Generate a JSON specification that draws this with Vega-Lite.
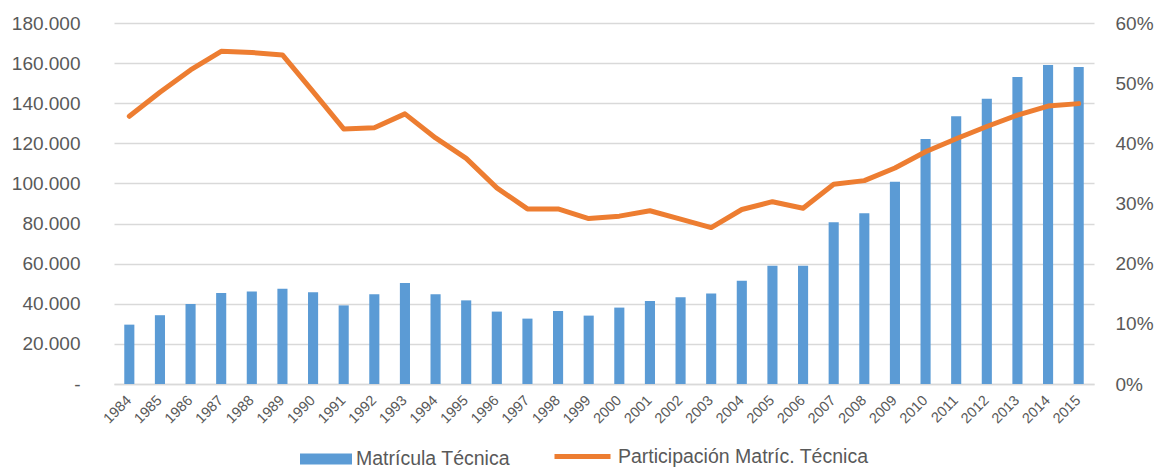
{
  "$schema": "https://vega.github.io/schema/vega-lite/v6.json",
  "width": 980,
  "height": 361,
  "autosize": {"type": "none"},
  "padding": {"left": 114, "top": 23, "right": 60, "bottom": 84},
  "background": "white",
  "config": {
    "view": {"stroke": null},
    "font": "Liberation Sans",
    "axis": {"labelFont": "Liberation Sans", "labelColor": "#595959", "tickSize": 0, "ticks": false},
    "legend": {"labelFont": "Liberation Sans", "labelColor": "#595959", "labelFontSize": 19.5, "padding": 0, "labelLimit": 500}
  },
  "data": {
    "values": [
      {"year": "1984", "matricula": 29600, "participacion": 0.445},
      {"year": "1985", "matricula": 34300, "participacion": 0.485},
      {"year": "1986", "matricula": 39900, "participacion": 0.522},
      {"year": "1987", "matricula": 45400, "participacion": 0.553},
      {"year": "1988", "matricula": 46100, "participacion": 0.551},
      {"year": "1989", "matricula": 47500, "participacion": 0.547},
      {"year": "1990", "matricula": 45700, "participacion": 0.486},
      {"year": "1991", "matricula": 39200, "participacion": 0.424},
      {"year": "1992", "matricula": 44700, "participacion": 0.426},
      {"year": "1993", "matricula": 50400, "participacion": 0.449},
      {"year": "1994", "matricula": 44700, "participacion": 0.409},
      {"year": "1995", "matricula": 41700, "participacion": 0.375},
      {"year": "1996", "matricula": 36100, "participacion": 0.326},
      {"year": "1997", "matricula": 32600, "participacion": 0.291},
      {"year": "1998", "matricula": 36400, "participacion": 0.291},
      {"year": "1999", "matricula": 34100, "participacion": 0.275},
      {"year": "2000", "matricula": 38100, "participacion": 0.279},
      {"year": "2001", "matricula": 41400, "participacion": 0.288},
      {"year": "2002", "matricula": 43200, "participacion": 0.274},
      {"year": "2003", "matricula": 45100, "participacion": 0.260},
      {"year": "2004", "matricula": 51500, "participacion": 0.290},
      {"year": "2005", "matricula": 59000, "participacion": 0.303},
      {"year": "2006", "matricula": 59000, "participacion": 0.292},
      {"year": "2007", "matricula": 80600, "participacion": 0.332},
      {"year": "2008", "matricula": 85200, "participacion": 0.338},
      {"year": "2009", "matricula": 100800, "participacion": 0.359},
      {"year": "2010", "matricula": 122100, "participacion": 0.386},
      {"year": "2011", "matricula": 133500, "participacion": 0.4075},
      {"year": "2012", "matricula": 142200, "participacion": 0.428},
      {"year": "2013", "matricula": 153100, "participacion": 0.447},
      {"year": "2014", "matricula": 159100, "participacion": 0.462},
      {"year": "2015", "matricula": 158100, "participacion": 0.466}
    ]
  },
  "encoding": {
    "x": {
      "field": "year",
      "type": "ordinal",
      "scale": {"paddingInner": 0.67, "paddingOuter": 0.335},
      "axis": {
        "title": null,
        "labelAngle": -45,
        "labelAlign": "right",
        "labelBaseline": "middle",
        "labelFontSize": 14.5,
        "labelPadding": 14,
        "domain": true,
        "domainColor": "#D9D9D9",
        "domainWidth": 1.5,
        "grid": false
      }
    }
  },
  "layer": [
    {
      "mark": {"type": "bar"},
      "encoding": {
        "y": {
          "field": "matricula",
          "type": "quantitative",
          "scale": {"domain": [0, 180000]},
          "axis": {
            "title": null,
            "values": [0, 20000, 40000, 60000, 80000, 100000, 120000, 140000, 160000, 180000],
            "labelExpr": "datum.value == 0 ? '-\u00a0\u00a0' : replace(format(datum.value, ','), ',', '.')",
            "labelFontSize": 19,
            "labelPadding": 34,
            "domain": false,
            "grid": true,
            "gridColor": "#D9D9D9",
            "gridWidth": 1.5
          }
        },
        "fill": {
          "datum": "Matrícula Técnica",
          "type": "nominal",
          "scale": {"range": ["#5B9BD5"]},
          "legend": {
            "title": null,
            "orient": "none",
            "legendX": 186,
            "legendY": 410,
            "symbolType": "M-1,-0.21H1V0.21H-1Z",
            "symbolSize": 2704,
            "symbolStrokeWidth": 0,
            "labelOffset": 4
          }
        }
      }
    },
    {
      "mark": {"type": "line", "strokeWidth": 5, "strokeJoin": "round", "strokeCap": "round"},
      "encoding": {
        "y": {
          "field": "participacion",
          "type": "quantitative",
          "scale": {"domain": [0, 0.6]},
          "axis": {
            "title": null,
            "orient": "right",
            "values": [0, 0.1, 0.2, 0.3, 0.4, 0.5, 0.6],
            "format": ".0%",
            "labelFontSize": 19,
            "labelPadding": 21,
            "domain": false,
            "grid": false
          }
        },
        "stroke": {
          "datum": "Participación Matríc. Técnica",
          "type": "nominal",
          "scale": {"range": ["#ED7D31"]},
          "legend": {
            "title": null,
            "orient": "none",
            "legendX": 438,
            "legendY": 403,
            "symbolType": "stroke",
            "symbolSize": 3136,
            "symbolStrokeWidth": 5,
            "labelOffset": 5
          }
        }
      }
    }
  ],
  "resolve": {"scale": {"y": "independent"}}
}
